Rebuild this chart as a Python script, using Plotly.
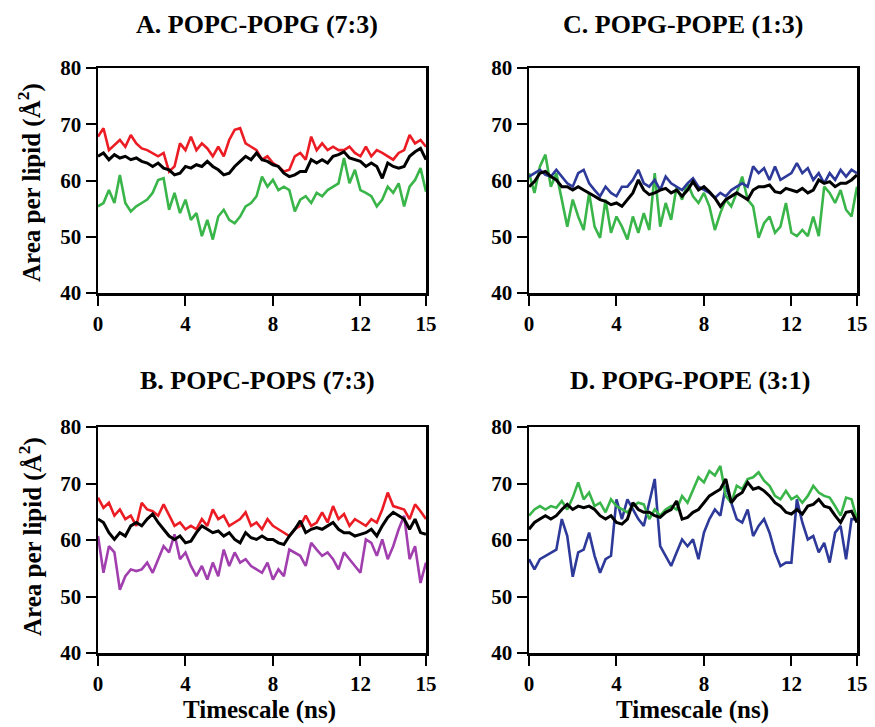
import plotly.graph_objects as go

W, H = 875, 727

# time grid (ns), sampled every 0.25 ns
time_ns = [i * 0.25 for i in range(61)]

# Panel A: POPC-POPG (7:3)
A_red = [67.8, 69.3, 65.4, 66.3, 67.2, 66.0, 68.1, 66.6, 65.7, 65.4,
         64.9, 64.3, 64.9, 61.6, 62.5, 66.6, 65.4, 67.8, 65.4, 66.6,
         65.7, 64.3, 66.0, 64.3, 67.2, 69.0, 69.3, 66.6, 66.0, 65.4,
         63.7, 64.3, 63.1, 62.5, 61.6, 61.9, 64.3, 64.9, 63.7, 67.8,
         65.4, 66.6, 65.4, 66.0, 65.4, 65.4, 66.0, 64.9, 64.3, 66.0,
         64.3, 65.4, 64.9, 64.3, 63.7, 64.9, 65.4, 68.1, 66.6, 67.2,
         66.0]
A_black = [64.3, 64.9, 63.7, 64.6, 64.0, 64.3, 63.7, 64.0, 63.4, 63.1,
           62.5, 63.1, 62.2, 61.9, 61.0, 61.3, 62.5, 62.2, 62.8, 62.5,
           63.4, 62.5, 61.9, 61.0, 61.3, 62.5, 63.4, 64.3, 63.7, 64.9,
           63.7, 63.4, 62.8, 62.5, 61.3, 60.7, 61.0, 61.6, 61.6, 63.7,
           63.1, 63.7, 63.1, 64.3, 64.6, 65.1, 64.0, 63.7, 63.4, 62.5,
           63.1, 62.5, 60.4, 63.1, 62.5, 62.2, 62.5, 64.3, 65.1, 65.7,
           63.7]
A_green = [55.4, 56.0, 58.3, 56.0, 61.0, 56.0, 54.5, 55.4, 56.0, 56.6,
           57.8, 60.1, 60.4, 54.8, 57.8, 54.2, 56.6, 53.0, 54.2, 50.1,
           53.0, 49.5, 53.6, 54.8, 53.0, 52.4, 53.6, 55.4, 56.0, 57.2,
           60.7, 58.9, 60.1, 58.3, 58.9, 58.3, 54.5, 56.6, 57.2, 56.0,
           57.8, 57.2, 58.3, 58.9, 59.5, 64.0, 59.5, 61.9, 58.3, 57.8,
           57.2, 55.4, 56.6, 58.9, 57.8, 59.5, 55.4, 58.9, 60.1, 62.2,
           58.0]

# Panel C: POPG-POPE (1:3)
C_blue = [60.7, 61.3, 61.9, 61.0, 60.7, 61.9, 60.7, 59.5, 58.9, 61.3,
          61.9, 59.5, 58.3, 57.2, 58.9, 57.8, 57.2, 58.9, 58.9, 60.1,
          61.9, 59.5, 58.9, 60.1, 58.3, 60.7, 59.5, 58.9, 58.3, 59.5,
          60.4, 58.9, 58.3, 57.8, 56.9, 57.8, 57.2, 58.3, 58.9, 59.5,
          58.9, 62.5, 61.3, 62.2, 60.1, 62.5, 60.1, 60.7, 61.3, 63.1,
          61.3, 62.2, 60.1, 61.3, 59.5, 61.3, 60.1, 61.9, 60.7, 61.9,
          61.3]
C_black = [58.9, 59.8, 61.3, 61.6, 60.7, 60.1, 58.9, 58.9, 58.3, 58.9,
           58.3, 57.8, 57.2, 56.6, 56.3, 55.7, 56.0, 55.4, 56.6, 57.8,
           60.1, 58.3, 57.5, 57.8, 58.3, 58.6, 57.8, 58.3, 57.2, 58.3,
           59.8, 58.3, 58.9, 58.0, 56.9, 55.4, 56.6, 57.2, 57.8, 57.2,
           56.6, 58.3, 58.9, 58.9, 59.2, 58.0, 57.8, 58.6, 58.3, 58.0,
           58.6, 57.8, 58.3, 60.1, 59.5, 59.8, 58.9, 59.5, 59.5, 60.1,
           61.0]
C_green = [61.3, 57.8, 62.5, 64.6, 58.9, 61.3, 56.6, 51.8, 56.6, 53.6,
           51.2, 57.8, 51.8, 49.8, 56.6, 50.7, 53.6, 51.8, 49.5, 53.6,
           50.7, 54.2, 51.2, 61.3, 51.8, 56.0, 53.0, 58.9, 56.6, 59.5,
           57.2, 56.0, 57.8, 55.4, 51.2, 54.2, 56.6, 55.4, 57.8, 60.7,
           56.6, 55.4, 49.8, 52.4, 53.6, 50.7, 51.8, 56.0, 50.7, 50.1,
           51.2, 50.1, 53.6, 50.1, 58.9, 57.8, 56.0, 58.3, 54.8, 53.6,
           58.9]

# Panel B: POPC-POPS (7:3)
B_red = [67.5, 65.7, 66.6, 64.3, 65.4, 63.7, 64.3, 62.5, 66.6, 65.4,
         65.1, 64.3, 66.3, 64.3, 62.5, 63.1, 61.9, 62.5, 61.9, 63.7,
         62.5, 65.4, 63.7, 64.3, 62.5, 63.1, 63.7, 64.9, 62.5, 63.1,
         61.9, 63.7, 62.5, 61.9, 61.3, 60.7, 61.9, 62.5, 64.3, 62.5,
         63.1, 64.9, 63.1, 66.0, 63.7, 64.6, 62.5, 63.7, 63.1, 62.5,
         63.7, 63.1, 65.4, 68.4, 66.0, 65.7, 65.4, 63.7, 66.3, 65.1,
         63.7]
B_black = [63.7, 63.1, 61.3, 60.1, 61.3, 60.7, 62.5, 63.1, 62.5, 63.7,
           64.6, 63.1, 61.9, 60.7, 60.1, 60.7, 59.5, 59.8, 61.3, 62.5,
           61.9, 61.3, 61.6, 60.7, 61.3, 60.1, 59.5, 61.3, 60.4, 60.1,
           60.7, 60.1, 60.1, 59.5, 59.2, 60.7, 61.9, 63.4, 61.3, 61.9,
           62.2, 61.9, 62.5, 63.1, 61.9, 61.3, 61.3, 60.7, 61.0, 61.3,
           61.9, 60.7, 62.5, 64.0, 64.9, 64.3, 63.7, 61.9, 63.7, 61.3,
           61.0]
B_purple = [60.7, 54.2, 58.9, 57.8, 51.2, 53.6, 54.8, 54.5, 54.8, 56.0,
            54.2, 56.6, 58.9, 57.8, 61.0, 56.6, 57.8, 55.4, 53.6, 55.4,
            53.0, 56.0, 53.6, 58.3, 55.4, 57.8, 56.0, 56.6, 55.4, 54.8,
            54.2, 56.0, 53.0, 54.8, 53.6, 58.3, 57.8, 57.2, 55.4, 59.5,
            58.3, 57.2, 57.8, 56.6, 54.8, 57.8, 56.6, 55.4, 54.2, 60.1,
            59.5, 57.2, 60.1, 56.6, 58.9, 61.9, 64.3, 56.6, 58.9, 52.4,
            56.0]

# Panel D: POPG-POPE (3:1)
D_green = [64.3, 65.4, 66.0, 65.4, 66.0, 65.7, 66.9, 65.4, 67.5, 70.2,
           67.2, 68.4, 66.0, 66.6, 64.9, 67.2, 66.0, 65.4, 64.9, 66.0,
           66.6, 66.3, 63.7, 65.4, 64.3, 65.4, 66.0, 65.4, 67.8, 66.6,
           69.0, 71.1, 70.2, 72.2, 71.4, 73.1, 67.8, 66.6, 69.6, 69.0,
           70.8, 71.1, 72.0, 70.5, 69.6, 67.8, 67.2, 68.7, 67.2, 67.8,
           66.6, 67.8, 69.6, 68.4, 67.8, 67.5, 66.0, 64.3, 67.5, 67.2,
           63.7]
D_black = [61.9, 63.1, 63.7, 64.3, 63.7, 64.3, 65.4, 66.3, 65.4, 66.0,
           65.7, 66.0, 65.4, 64.3, 63.7, 64.3, 63.1, 62.8, 63.7, 66.6,
           65.4, 64.9, 64.9, 64.3, 64.0, 64.9, 65.4, 66.9, 63.7, 64.0,
           64.9, 65.4, 66.6, 67.8, 68.4, 69.0, 70.8, 66.6, 67.8, 68.4,
           70.2, 69.0, 69.3, 68.7, 67.8, 66.6, 66.0, 64.9, 64.6, 65.4,
           64.6, 66.0, 66.3, 67.2, 66.0, 65.7, 64.3, 63.1, 64.9, 65.1,
           63.1]
D_blue = [56.6, 54.8, 56.6, 57.2, 57.8, 58.3, 63.7, 60.7, 53.5, 57.8,
          58.3, 61.3, 57.2, 54.2, 56.6, 57.2, 67.2, 63.7, 67.2, 65.4,
          63.7, 62.5, 66.6, 70.8, 58.9, 57.2, 55.4, 57.8, 60.1, 58.9,
          60.1, 56.6, 61.3, 63.7, 65.4, 64.3, 69.6, 66.6, 63.7, 63.1,
          65.4, 60.7, 62.5, 63.7, 61.3, 57.8, 55.4, 56.0, 56.0, 67.2,
          63.1, 60.1, 60.7, 57.8, 59.5, 56.0, 61.3, 62.5, 56.6, 63.7,
          63.7]

panel_titles = ["A. POPC-POPG (7:3)", "C. POPG-POPE (1:3)",
                "B. POPC-POPS (7:3)", "D. POPG-POPE (3:1)"]
x_ticks = [0, 4, 8, 12, 15]
y_ticks = [40, 50, 60, 70, 80]

RED, BLACK, GREEN, BLUE, PURPLE = "#ec1c24", "#000000", "#3ab54a", "#2e3a9a", "#a23fae"

panels = [
    ("x", "y", [(A_green, GREEN), (A_red, RED), (A_black, BLACK)]),
    ("x2", "y2", [(C_green, GREEN), (C_blue, BLUE), (C_black, BLACK)]),
    ("x3", "y3", [(B_purple, PURPLE), (B_red, RED), (B_black, BLACK)]),
    ("x4", "y4", [(D_blue, BLUE), (D_green, GREEN), (D_black, BLACK)]),
]

fig = go.Figure()
for xa, ya, series in panels:
    for vals, col in series:
        fig.add_trace(go.Scatter(
            x=time_ns, y=vals, xaxis=xa, yaxis=ya, mode="lines",
            line=dict(color=col, width=3 if col == BLACK else 2.6),
            showlegend=False, hoverinfo="skip"))

FONT = "Liberation Serif, Times New Roman, serif"
def px_x(p):
    return p / W
def px_y(p):
    return 1 - p / H

left_dom = [px_x(98), px_x(426)]
right_dom = [px_x(529), px_x(857)]
top_dom = [px_y(293), px_y(68)]
bot_dom = [px_y(653), px_y(427)]

axis_common = dict(showline=True, linecolor="black", linewidth=2.5, mirror=True,
                   ticks="outside", ticklen=10, tickwidth=2, tickcolor="black",
                   showgrid=False, zeroline=False, automargin=False,
                   tickfont=dict(family=FONT, size=21, color="black", weight="bold"))

layout = dict(width=W, height=H,
              margin=dict(l=0, r=0, t=0, b=0, pad=0, autoexpand=False),
              paper_bgcolor="white", plot_bgcolor="white", showlegend=False)
doms = [("", left_dom, top_dom), ("2", right_dom, top_dom),
        ("3", left_dom, bot_dom), ("4", right_dom, bot_dom)]
for suf, xd, yd in doms:
    layout["xaxis" + suf] = dict(domain=xd, range=[0, 15], tickvals=x_ticks,
                                 anchor="y" + suf, **axis_common)
    layout["yaxis" + suf] = dict(domain=yd, range=[40, 80], tickvals=y_ticks,
                                 anchor="x" + suf, **axis_common)
fig.update_layout(**layout)

title_pos = [(257, 25), (683, 25), (257, 381), (690, 381)]
anns = []
for t, (xp, yp) in zip(panel_titles, title_pos):
    anns.append(dict(text="<b>" + t + "</b>", x=px_x(xp), y=px_y(yp), xref="paper",
                     yref="paper", showarrow=False, xanchor="center", yanchor="middle",
                     font=dict(family=FONT, size=26, color="black")))
for yp in (183, 537):
    anns.append(dict(text="<b>Area per lipid (Å<sup>2</sup>)</b>", x=px_x(30), y=px_y(yp),
                     xref="paper", yref="paper", showarrow=False, textangle=-90,
                     xanchor="center", yanchor="middle",
                     font=dict(family=FONT, size=25, color="black")))
for xp in (259, 692):
    anns.append(dict(text="<b>Timescale (ns)</b>", x=px_x(xp), y=px_y(710),
                     xref="paper", yref="paper", showarrow=False,
                     xanchor="center", yanchor="middle",
                     font=dict(family=FONT, size=25, color="black")))
fig.update_layout(annotations=anns)

fig.write_html("out.html", config={"displayModeBar": False, "staticPlot": True},
               post_script="document.body.style.margin='0px';document.body.style.overflow='hidden';")
